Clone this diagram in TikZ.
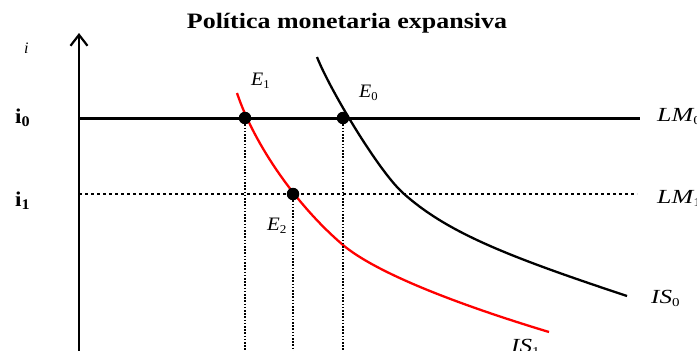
\documentclass[tikz,border=0pt]{standalone}
\usepackage{fontspec}
\usepackage{graphicx}
\setmainfont{Liberation Serif}
\usetikzlibrary{arrows.meta}
\newcommand{\wide}[2]{\scalebox{#1}[1]{#2}}
\newcommand{\sbs}[1]{{\upshape\fontsize{12}{12}\selectfont\raisebox{-3.5pt}{#1}}}
\begin{document}
\begin{tikzpicture}[x=1pt,y=-1pt,
  dotn/.style={circle,fill=black,inner sep=0pt,minimum size=12.5pt},
  lbl/.style={inner sep=0pt,anchor=base west,font=\fontsize{19}{21}\selectfont},
  biglbl/.style={inner sep=0pt,anchor=base west,font=\fontsize{20}{22}\selectfont},
  axislbl/.style={inner sep=0pt,anchor=base west,font=\fontsize{21}{23}\selectfont\bfseries},
  axis/.style={line width=2.2pt},
  hguide/.style={line width=2.4pt,dash pattern=on 2.6pt off 3.4pt},
  vguide/.style={line width=1.8pt,dash pattern=on 1.6pt off 1.6pt},
  curve/.style={line width=2.3pt}]
\useasboundingbox (0,0) rectangle (697,351);
% title
\node[inner sep=0pt,anchor=base,font=\fontsize{22}{24}\selectfont\bfseries] (title) at (347,28) {\wide{1.18}{Política monetaria expansiva}};
% axis
\coordinate (o) at (79,360);
\coordinate (top) at (79,33);
\draw[axis,-{Straight Barb[length=11pt,width=17pt,line width=2.2pt]}] (o) -- (top);
\node[inner sep=0pt,anchor=base west,font=\fontsize{16}{18}\selectfont\itshape] (ilab) at (24,53) {i};
\node[axislbl] (i0) at (15,123) {\wide{1.1}{i\textsubscript{0}}};
\node[axislbl] (i1) at (15,206) {\wide{1.1}{i\textsubscript{1}}};
% curves
\coordinate (r0) at (237,93);
\coordinate (rm) at (343,245);
\coordinate (r1) at (549,332);
\draw[curve,red] (r0) .. controls (254.3,144.8) and (296.7,205.6) .. (rm)
  .. controls (375,272) and (453,303) .. (r1);
\coordinate (k0) at (317,57);
\coordinate (km) at (403,193);
\coordinate (k1) at (627,296);
\draw[curve] (k0) .. controls (329,88) and (378,170.5) .. (km)
  .. controls (447,232.6) and (508,256.5) .. (k1);
% LM lines
\coordinate (lm0a) at (79,118);
\coordinate (lm0b) at (640,118);
\coordinate (lm1a) at (79,194);
\coordinate (lm1b) at (637,194);
\draw[line width=3pt] (lm0a) -- (lm0b);
\draw[hguide] (lm1a) -- (lm1b);
% points
\node[dotn] (E1) at (245,118) {};
\node[dotn] (E0) at (343,118) {};
\node[dotn] (E2) at (293,194) {};
\coordinate (b1) at (245,360);
\coordinate (b2) at (293,360);
\coordinate (b0) at (343,360);
\draw[vguide] (E1) -- (b1);
\draw[vguide] (E2) -- (b2);
\draw[vguide] (E0) -- (b0);
% labels
\node[lbl] (E1l) at (251,85) {\wide{1.05}{\itshape E\sbs{1}}};
\node[lbl] (E0l) at (359,97) {\wide{1.05}{\itshape E\sbs{0}}};
\node[lbl] (E2l) at (267,230) {\wide{1.1}{\itshape E\sbs{2}}};
\node[biglbl] (LM0l) at (657,121) {\wide{1.3}{\itshape LM\sbs{0}}};
\node[biglbl] (LM1l) at (657,203) {\wide{1.3}{\itshape LM\sbs{1}}};
\node[biglbl] (IS0l) at (651,303) {\wide{1.25}{\itshape IS\sbs{0}}};
\node[biglbl] (IS1l) at (511,352) {\wide{1.25}{\itshape IS\sbs{1}}};
\end{tikzpicture}
\end{document}
